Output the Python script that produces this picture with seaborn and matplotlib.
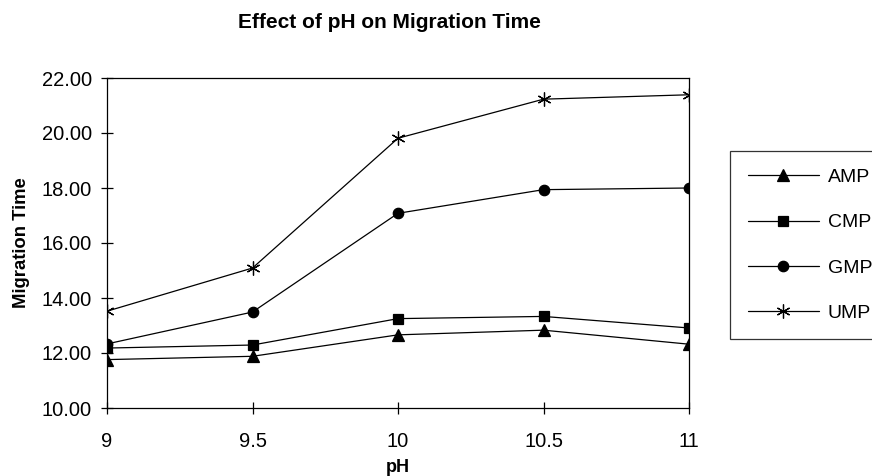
import matplotlib
matplotlib.use("Agg")
import matplotlib.pyplot as plt
import seaborn as sns
import pandas as pd

ph = [9, 9.5, 10, 10.5, 11]
amp = [11.76, 11.88, 12.66, 12.83, 12.32]
cmp_ = [12.18, 12.29, 13.25, 13.33, 12.91]
gmp = [12.33, 13.49, 17.08, 17.94, 18.00]
ump = [13.52, 15.09, 19.81, 21.23, 21.39]
series_names = ["AMP", "CMP", "GMP", "UMP"]
x_tick_labels = ["9", "9.5", "10", "10.5", "11"]
y_ticks = [10, 12, 14, 16, 18, 20, 22]

rows = []
for name, vals in zip(series_names, [amp, cmp_, gmp, ump]):
    for x, v in zip(ph, vals):
        rows.append({"pH": x, "Migration Time": v, "Series": name})
df = pd.DataFrame(rows)

sns.set_theme(style="white")
plt.rcParams["font.family"] = ["Liberation Sans", "DejaVu Sans"]
plt.rcParams["text.color"] = "black"
plt.rcParams["axes.labelcolor"] = "black"
plt.rcParams["xtick.color"] = "black"
plt.rcParams["ytick.color"] = "black"

fig = plt.figure(figsize=(8.72, 4.76), dpi=100)
ax = fig.add_axes([107 / 872, 1 - 408 / 476, (689 - 107) / 872, (408 - 78) / 476])

markers = {"AMP": "^", "CMP": "s", "GMP": "o", "UMP": (6, 2, 0)}
msizes = {"AMP": 8, "CMP": 7, "GMP": 7.5, "UMP": 10}

for name in series_names:
    sub = df[df["Series"] == name]
    sns.lineplot(data=sub, x="pH", y="Migration Time", color="black",
                 marker=markers[name], markersize=msizes[name],
                 markeredgecolor="black", markerfacecolor="black",
                 markeredgewidth=0.9, linewidth=0.9, label=name, ax=ax)

ax.set_xlim(9, 11)
ax.set_ylim(10, 22)
ax.set_xticks(ph)
ax.set_xticklabels(x_tick_labels)
ax.set_yticks(y_ticks)
ax.set_yticklabels([f"{v:.2f}" for v in y_ticks])
ax.tick_params(axis="both", direction="inout", length=8, width=0.9, colors="black",
               labelcolor="black", labelsize=14.5, bottom=True, left=True)
ax.tick_params(axis="x", pad=13)
ax.tick_params(axis="y", pad=7)
for s in ax.spines.values():
    s.set_visible(True)
    s.set_color("black")
    s.set_linewidth(0.9)

ax.set_xlabel("pH", fontsize=13, fontweight="bold", labelpad=6, color="black")
ax.set_ylabel("Migration Time", fontsize=13.3, fontweight="bold", labelpad=8, color="black")

fig.text(0.447, 1 - 22 / 476, "Effect of pH on Migration Time", ha="center", va="center",
         fontsize=15, fontweight="bold", color="black")

handles, labels = ax.get_legend_handles_labels()
if ax.get_legend() is not None:
    ax.get_legend().remove()
leg = fig.legend(handles, labels, loc="upper left",
                 bbox_to_anchor=(730 / 872, 1 - 151 / 476), bbox_transform=fig.transFigure,
                 borderaxespad=0, frameon=True, fancybox=False, shadow=False,
                 fontsize=14, handlelength=3.66, handletextpad=0.46,
                 labelspacing=1.42, borderpad=0.9)
leg.get_frame().set_edgecolor("black")
leg.get_frame().set_linewidth(0.9)
for t in leg.get_texts():
    t.set_color("black")

fig.savefig("out.png", dpi=100)
